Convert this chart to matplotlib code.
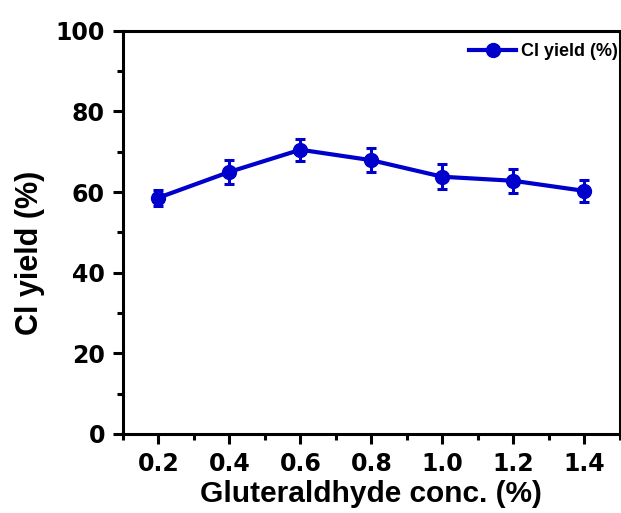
import matplotlib
matplotlib.use("Agg")
import matplotlib.pyplot as plt
from matplotlib.ticker import MultipleLocator

plt.rcParams['font.family'] = ['Liberation Sans', 'DejaVu Sans']
plt.rcParams['font.weight'] = 'bold'

conc = [0.2, 0.4, 0.6, 0.8, 1.0, 1.2, 1.4]
cl_yield = [58.6, 65.0, 70.5, 67.9, 63.8, 62.8, 60.3]
cl_err = [2.0, 3.0, 2.7, 3.0, 3.1, 3.0, 2.8]

blue = '#0000cc'

fig = plt.figure(figsize=(6.21, 5.13), dpi=100)
ax = fig.add_axes([0.198, 0.154, 0.8, 0.786])

ax.errorbar(conc, cl_yield, yerr=cl_err, color=blue, lw=3, marker='o',
            markersize=10, elinewidth=2.2, capsize=3.5, capthick=2.2)
# plain line+marker handle for the legend (no error bars)
handle, = ax.plot([], [], color=blue, lw=3, marker='o', markersize=10)

ax.set_xlim(0.1, 1.5)
ax.set_ylim(0, 100)
ax.xaxis.set_minor_locator(MultipleLocator(0.1))
ax.yaxis.set_major_locator(MultipleLocator(20))
ax.yaxis.set_minor_locator(MultipleLocator(10))
ax.set_xticks(conc)
ax.set_xticklabels(['%.1f' % c for c in conc])

for s in ax.spines.values():
    s.set_linewidth(2.2)
ax.tick_params(which='major', direction='out', length=7, width=2.2,
               top=False, right=False)
ax.tick_params(which='minor', direction='out', length=4, width=2.2,
               top=False, right=False)
ax.tick_params(axis='x', which='major', pad=6)
ax.tick_params(axis='y', which='major', pad=6)
for lbl in ax.get_xticklabels() + ax.get_yticklabels():
    lbl.set_family('DejaVu Sans')
    lbl.set_fontweight('bold')
    lbl.set_fontsize(17)

ax.set_xlabel('Gluteraldhyde conc. (%)', fontsize=21.5, fontweight='bold')
ax.set_ylabel('Cl yield (%)', fontsize=22, fontweight='bold')
ax.xaxis.set_label_coords(0.5, -0.114)
ax.yaxis.set_label_coords(-0.156, 0.45)

leg = ax.legend([handle], ['Cl yield (%)'], loc='upper right', frameon=False,
                fontsize=13, handlelength=2.6, borderaxespad=0.0,
                handletextpad=0.3, borderpad=0.3,
                bbox_to_anchor=(1.008, 0.983))
for t in leg.get_texts():
    t.set_fontweight('bold')

fig.savefig('out.png', dpi=100)
